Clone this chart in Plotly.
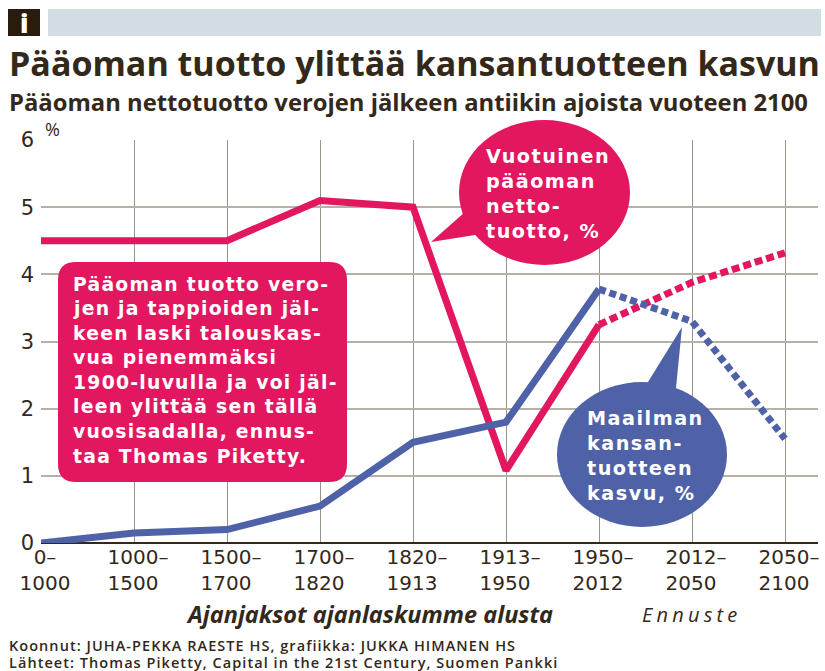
import plotly.graph_objects as go

period_labels = ["0–<br>1000", "1000–<br>1500\u2002", "1500–<br>1700\u2002", "1700–<br>1820\u2002", "1820–<br>1913\u2002",
                 "1913–<br>1950\u2002", "1950–<br>2012\u2002", "2012–<br>2050\u2002", "2050–<br>2100\u2002"]
period_index = [0, 1, 2, 3, 4, 5, 6, 7, 8]
capital_return = [4.5, 4.5, 4.5, 5.1, 5.0, 1.08, 3.25, 3.88, 4.32]
world_growth = [0.0, 0.15, 0.2, 0.55, 1.5, 1.8, 3.78, 3.3, 1.55]
last_actual = 6  # index of the last non-forecast period
y_ticks = [0, 1, 2, 3, 4, 5, 6]

title_text = "Pääoman tuotto ylittää kansantuotteen kasvun"
subtitle_text = "Pääoman nettotuotto verojen jälkeen antiikin ajoista vuoteen 2100"
box_lines = ["Pääoman tuotto vero-", "jen ja tappioiden jäl-", "keen laski talouskas-", "vua pienemmäksi",
             "1900-luvulla ja voi jäl-", "leen ylittää sen tällä", "vuosisadalla, ennus-", "taa Thomas Piketty."]
red_bubble_lines = ["Vuotuinen", "pääoman", "netto-", "tuotto, %"]
blue_bubble_lines = ["Maailman", "kansan-", "tuotteen", "kasvu, %"]
footer_lines = ["Koonnut: JUHA-PEKKA RAESTE HS, grafiikka: JUKKA HIMANEN HS",
                "Lähteet: Thomas Piketty, Capital in the 21st Century, Suomen Pankki"]

RED = "#e2175f"
BLUE = "#4f62a8"
INK = "#33281a"
GRID_V = "#98948a"
GRID_H = "#b4b1a7"
SANS = "Open Sans"
WIDE = "DejaVu Sans"

W, H = 825, 671
L, R, T, B = 41, 818, 140, 543
def px(x): return (x - L) / (R - L)
def py(y): return (B - y) / (B - T)

fig = go.Figure()
def add_line(x, y, color, dash="solid"):
    fig.add_trace(go.Scatter(x=x, y=y, mode="lines", cliponaxis=False, showlegend=False, hoverinfo="skip",
                             line=dict(color=color, width=7, dash=dash)))
add_line(period_index[:last_actual + 1], capital_return[:last_actual + 1], RED)
add_line(period_index[last_actual:], capital_return[last_actual:], RED, "8px,4px")
add_line(period_index[:last_actual + 1], world_growth[:last_actual + 1], BLUE)
add_line(period_index[last_actual:], world_growth[last_actual:], BLUE, "7px,4px")

shapes = []
def rect(x0, y0, x1, y1, color):
    shapes.append(dict(type="rect", xref="paper", yref="paper", x0=px(x0), x1=px(x1), y0=py(y0), y1=py(y1),
                       fillcolor=color, line_width=0, layer="above"))
def ellipse(x0, y0, x1, y1, color):
    shapes.append(dict(type="circle", xref="paper", yref="paper", x0=px(x0), x1=px(x1), y0=py(y0), y1=py(y1),
                       fillcolor=color, line_width=0, layer="above"))
def poly(points, color):
    d = "M" + " L".join(f"{px(a):.5f},{py(b):.5f}" for a, b in points) + " Z"
    shapes.append(dict(type="path", xref="paper", yref="paper", path=d, fillcolor=color, line_width=0, layer="above"))
def round_box(x0, y0, x1, y1, r, color):
    p = lambda a, b: f"{px(a):.5f},{py(b):.5f}"
    d = (f"M{p(x0 + r, y0)} L{p(x1 - r, y0)} Q{p(x1, y0)} {p(x1, y0 + r)} L{p(x1, y1 - r)} Q{p(x1, y1)} {p(x1 - r, y1)} "
         f"L{p(x0 + r, y1)} Q{p(x0, y1)} {p(x0, y1 - r)} L{p(x0, y0 + r)} Q{p(x0, y0)} {p(x0 + r, y0)} Z")
    shapes.append(dict(type="path", xref="paper", yref="paper", path=d, fillcolor=color, line_width=0, layer="above"))

rect(8, 9, 40, 36, "#2a1c0c")
rect(48, 9, 821, 36, "#d2dde3")
ellipse(459, 120, 630, 265, RED)
poly([(431, 242), (465, 212), (490, 230), (475, 235)], RED)
ellipse(557, 382, 727, 527, BLUE)
poly([(682, 327), (648, 382), (660, 400), (676, 388)], BLUE)
round_box(58, 262, 347, 482, 18, RED)

ann = []
def text(x, y, s, size, color=INK, weight=400, anchor="left", italic=False, family=SANS):
    ann.append(dict(xref="paper", yref="paper", x=px(x), y=py(y), text=s, showarrow=False, xanchor=anchor,
                    yanchor="middle", align="left", borderpad=0,
                    font=dict(family=family, size=size, color=color, weight=weight,
                              style="italic" if italic else "normal")))

text(24, 23, "i", 26, "#ffffff", 800, "center")
text(8, 63, title_text, 34, INK, 700)
text(8, 102, subtitle_text, 23.8, INK, 700)
text(44, 129, "%", 18, INK, 400)
for i, s in enumerate(box_lines):
    text(72, 284 + i * 24.6, s, 18.8, "#ffffff", 700, family=WIDE)
for i, s in enumerate(red_bubble_lines):
    text(485, 156 + i * 25, s, 19.2, "#ffffff", 700, family=WIDE)
for i, s in enumerate(blue_bubble_lines):
    text(586, 418 + i * 25, s, 19.2, "#ffffff", 700, family=WIDE)
text(185, 614, "Ajanjaksot ajanlaskumme alusta", 23.5, INK, 700, italic=True)
text(641, 614, "Ennuste", 20, INK, 400, italic=True)
text(8, 645, footer_lines[0], 14.5, INK, 600)
text(8, 662, footer_lines[1], 14.5, INK, 600)

fig.update_layout(
    width=W, height=H, autosize=False, showlegend=False,
    margin=dict(l=L, r=W - R, t=T, b=H - B, pad=0),
    paper_bgcolor="white", plot_bgcolor="white",
    shapes=shapes, annotations=ann,
    xaxis=dict(range=[0, (R - L) / 93], tickmode="array", tickvals=period_index, ticktext=period_labels,
               showgrid=True, gridcolor=GRID_V, gridwidth=1, zeroline=False, showline=False, ticks="",
               tickangle=0, ticklabelshift=4, tickfont=dict(family=WIDE, size=20, color=INK)),
    yaxis=dict(range=[0, 6], tickmode="array", tickvals=y_ticks, showgrid=True, gridcolor=GRID_H, gridwidth=2,
               zeroline=True, zerolinecolor=INK, zerolinewidth=2, showline=False, ticks="",
               ticklabelstandoff=6, tickfont=dict(family=WIDE, size=21, color=INK)),
)
post = """
document.body.style.margin='0';
var wanted = {box:%s, bubble:%s};
document.querySelectorAll('.annotation-text').forEach(function(t){
  var s=t.textContent;
  if(s==='Ennuste'){t.style.letterSpacing='4.2px';}
  if(s.indexOf('Koonnut')===0||s.indexOf('Lähteet')===0){t.style.letterSpacing='1.05px';}
  if(wanted.box.indexOf(s)>=0){t.style.letterSpacing='1.25px';}
  if(wanted.bubble.indexOf(s)>=0){t.style.letterSpacing='1.5px';}
});
""" % (repr(box_lines), repr(red_bubble_lines + blue_bubble_lines))
fig.write_html("out.html", post_script=post, config={"displayModeBar": False})
